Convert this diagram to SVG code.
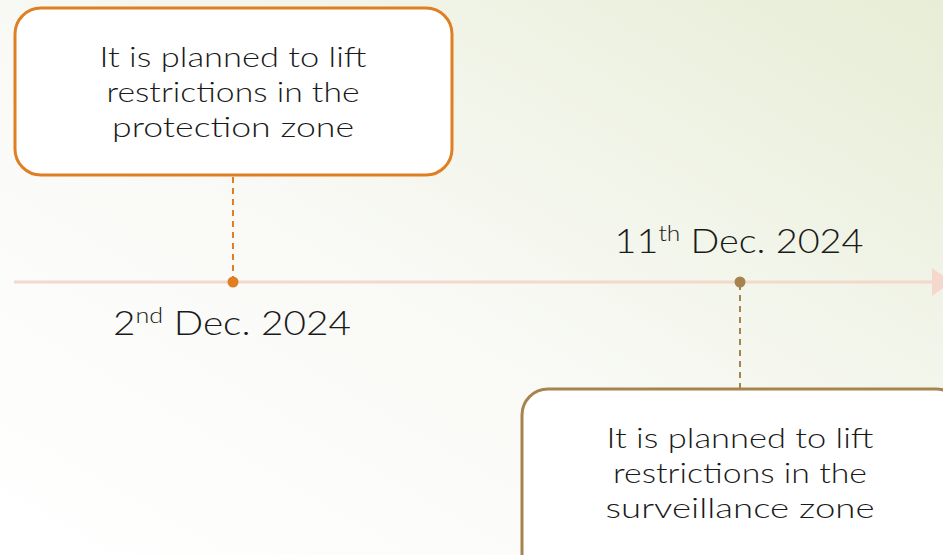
<svg xmlns="http://www.w3.org/2000/svg" width="943" height="555" viewBox="0 0 943 555">
<defs>
<linearGradient id="bg" x1="0" y1="1" x2="1" y2="0">
<stop offset="0" stop-color="#ffffff"/>
<stop offset="0.45" stop-color="#f9faf6"/>
<stop offset="1" stop-color="#e7edd6"/>
</linearGradient>
</defs>
<style>
.t{font-family:Lato,"Liberation Sans",sans-serif;font-weight:300;fill:#1a1a1a;text-anchor:middle}
.box{font-size:28px}
.date{font-size:34px}
.sup{font-size:22px}
</style>
<rect width="943" height="555" fill="url(#bg)"/>
<g id="connectors">
<line x1="14" y1="282" x2="933" y2="282" stroke="#f5d8cc" stroke-width="3"/>
<polygon points="932,268 952,282 932,296" fill="#f5d8cc"/>
<line x1="233" y1="177" x2="233" y2="280" stroke="#e07e22" stroke-width="2" stroke-dasharray="6,5"/>
<line x1="740" y1="284" x2="740" y2="388" stroke="#a6844f" stroke-width="2" stroke-dasharray="6,5"/>
</g>
<g id="node1">
<rect x="15" y="8" width="437" height="167" rx="26" fill="#ffffff" stroke="#e07e22" stroke-width="3"/>
<text class="t box" x="233" y="67" textLength="267" lengthAdjust="spacingAndGlyphs">It is planned to lift</text>
<text class="t box" x="233" y="102" textLength="253" lengthAdjust="spacingAndGlyphs">restrictions in the</text>
<text class="t box" x="233" y="137" textLength="242" lengthAdjust="spacingAndGlyphs">protection zone</text>
</g>
<g id="dot1"><circle cx="233" cy="282" r="5.5" fill="#e07e22"/></g>
<g id="date1">
<text class="t date" x="232" y="335" textLength="238" lengthAdjust="spacingAndGlyphs">2<tspan class="sup" dy="-12">nd</tspan><tspan dy="12"> Dec. 2024</tspan></text>
</g>
<g id="dot2"><circle cx="740" cy="282" r="5.5" fill="#a6844f"/></g>
<g id="date2">
<text class="t date" x="739" y="253" textLength="249" lengthAdjust="spacingAndGlyphs">11<tspan class="sup" dy="-12">th</tspan><tspan dy="12"> Dec. 2024</tspan></text>
</g>
<g id="node2">
<rect x="522" y="389" width="440" height="190" rx="26" fill="#ffffff" stroke="#a6844f" stroke-width="3"/>
<text class="t box" x="740" y="448" textLength="267" lengthAdjust="spacingAndGlyphs">It is planned to lift</text>
<text class="t box" x="740" y="483" textLength="254" lengthAdjust="spacingAndGlyphs">restrictions in the</text>
<text class="t box" x="740" y="518" textLength="269" lengthAdjust="spacingAndGlyphs">surveillance zone</text>
</g>
</svg>
